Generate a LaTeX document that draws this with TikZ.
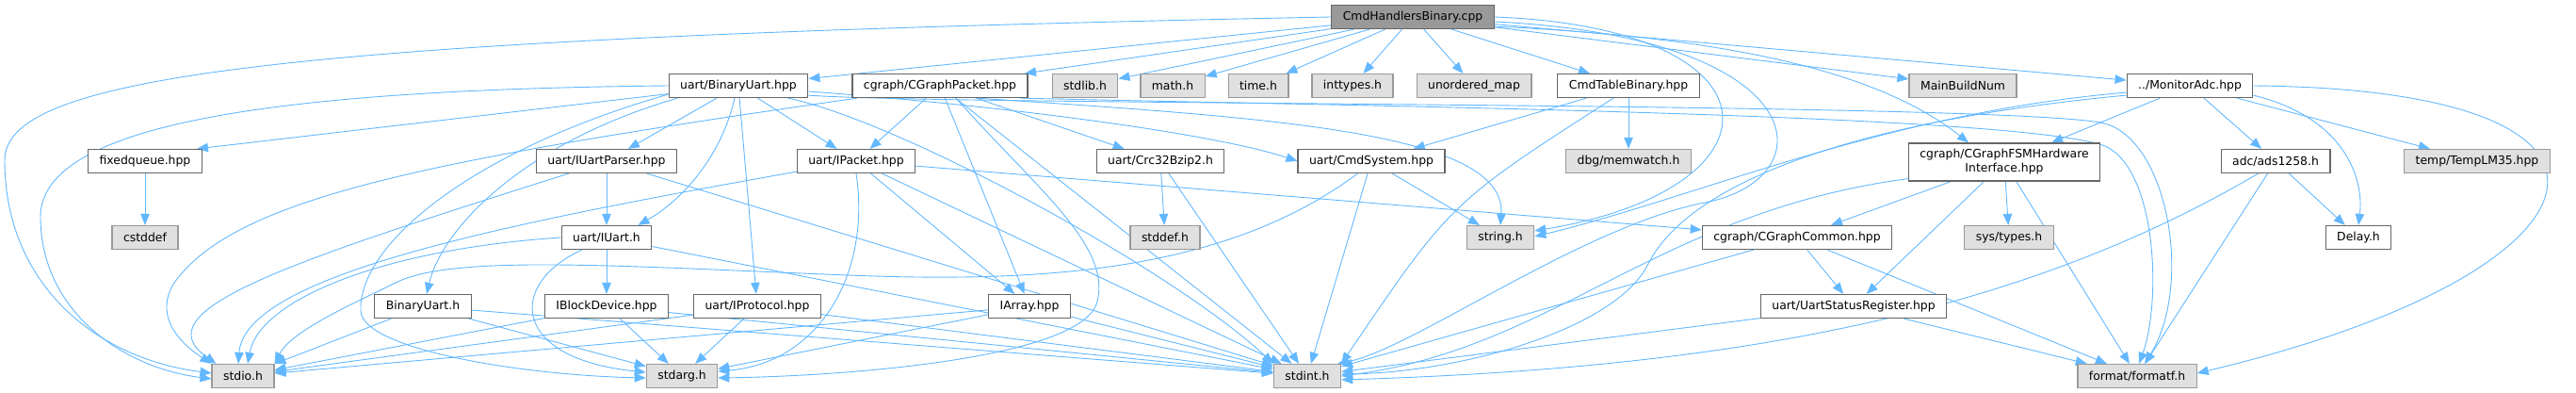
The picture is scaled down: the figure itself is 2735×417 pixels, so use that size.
\documentclass[tikz,border=0pt]{standalone}
\usepackage{fontspec}
\setmainfont{DejaVu Sans}
\usetikzlibrary{arrows.meta, backgrounds, calc}
\definecolor{dedge}{HTML}{63B8FF}
\definecolor{dline}{HTML}{666666}
\definecolor{dextline}{HTML}{999999}
\definecolor{dextfill}{HTML}{E0E0E0}
\definecolor{droot}{HTML}{999999}
\tikzset{
  filebox/.style={draw=dline, fill=white, line width=1.2pt, minimum height=25pt,
                  inner xsep=12pt, inner ysep=2pt, text=black,
                  font=\fontsize{12.4}{15}\selectfont},
  extbox/.style={filebox, draw=dextline, fill=dextfill},
  rootbox/.style={filebox, fill=droot},
  inc/.style={-{Triangle[length=12pt,width=9.5pt]}, dedge, line width=0.9pt},
}

\begin{document}
\begin{tikzpicture}[x=1pt, y=-1pt]
  \useasboundingbox (0,0) rectangle (2735,417);

  %% ── row 0 ──
  \node[rootbox] (root) at (1500,18) {CmdHandlersBinary.cpp};

  %% ── row 1 ──
  \node[filebox] (bu)       at (784,91)  {uart/BinaryUart.hpp};
  \node[filebox] (cgp)      at (998,91)  {cgraph/CGraphPacket.hpp};
  \node[extbox]  (stdlib)   at (1152,91) {stdlib.h};
  \node[extbox]  (math)     at (1245,91) {math.h};
  \node[extbox]  (time)     at (1336,91) {time.h};
  \node[extbox]  (inttypes) at (1436,91) {inttypes.h};
  \node[extbox]  (umap)     at (1565,91) {unordered\_map};
  \node[filebox] (ctb)      at (1729,91) {CmdTableBinary.hpp};
  \node[extbox]  (mbn)      at (2084,91) {MainBuildNum};
  \node[filebox] (madc)     at (2325,91) {../MonitorAdc.hpp};

  %% ── row 2 ──
  \node[filebox] (fq)   at (154,171)  {fixedqueue.hpp};
  \node[filebox] (iup)  at (644,171)  {uart/IUartParser.hpp};
  \node[filebox] (ipk)  at (909,171)  {uart/IPacket.hpp};
  \node[filebox] (crc)  at (1232,171) {uart/Crc32Bzip2.h};
  \node[filebox] (cmds) at (1456,171) {uart/CmdSystem.hpp};
  \node[extbox]  (memw) at (1729,171) {dbg/memwatch.h};
  \node[filebox, minimum height=40pt, align=center] (fsm) at (2128,172)
       {cgraph/CGraphFSMHardware\\Interface.hpp};
  \node[filebox] (ads)  at (2416,171) {adc/ads1258.h};
  \node[extbox]  (lm35) at (2630,171) {temp/TempLM35.hpp};

  %% ── row 3 ──
  \node[extbox]  (cstddef)  at (154,252)  {cstddef};
  \node[filebox] (iuart)    at (644,252)  {uart/IUart.h};
  \node[extbox]  (stddef)   at (1237,252) {stddef.h};
  \node[extbox]  (string)   at (1593,252) {string.h};
  \node[filebox] (cgc)      at (1908,252) {cgraph/CGraphCommon.hpp};
  \node[extbox]  (systypes) at (2133,252) {sys/types.h};
  \node[filebox] (delay)    at (2504,252) {Delay.h};

  %% ── row 4 ──
  \node[filebox] (buh)    at (449,325)  {BinaryUart.h};
  \node[filebox] (iblk)   at (644,325)  {IBlockDevice.hpp};
  \node[filebox] (iproto) at (804,325)  {uart/IProtocol.hpp};
  \node[filebox] (iarr)   at (1093,325) {IArray.hpp};
  \node[filebox] (usr)    at (1968,325) {uart/UartStatusRegister.hpp};

  %% ── row 5 ──
  \node[extbox] (stdio)   at (258,399)  {stdio.h};
  \node[extbox] (stdarg)  at (724,399)  {stdarg.h};
  \node[extbox] (stdint)  at (1388,399) {stdint.h};
  \node[extbox] (formatf) at (2269,399) {format/formatf.h};

  \begin{scope}[on background layer]
    %% ── straight includes ──
    \foreach \src/\dst in {root/bu, root/cgp, root/stdlib, root/math, root/time,
        root/inttypes, root/umap, root/ctb, root/mbn, root/madc,
        bu/iup, bu/ipk, bu/iproto,
        cgp/ipk, cgp/crc, cgp/iarr, cgp/stdint, fq/cstddef,
        iup/iuart, iup/stdint, ipk/iarr, ipk/cgc, ipk/stdint,
        iuart/iblk, iuart/stdint,
        buh/stdio, buh/stdarg, buh/stdint,
        iblk/stdio, iblk/stdarg, iblk/stdint,
        iproto/stdio, iproto/stdarg, iproto/stdint,
        iarr/stdio, iarr/stdarg, iarr/stdint,
        crc/stddef, crc/stdint, cmds/string, cmds/stdint,
        ctb/cmds, ctb/memw,
        fsm/cgc, fsm/usr, fsm/systypes, fsm/formatf,
        cgc/usr, cgc/formatf, cgc/stdint, usr/formatf, usr/stdint,
        madc/fsm, madc/ads, madc/lm35, ads/delay, ads/formatf}{
      \draw[inc] (\src) -- (\dst);
    }
    \draw[inc] (bu) -- ($(fq.north east)+(-6,0)$);

    %% ── curved includes, left side ──
    \draw[inc] (root.west) .. controls (300,40) and (5,80) .. (5,170)
               .. controls (5,300) and (100,380) .. ($(stdio.west)+(0,-3)$);
    \draw[inc] (bu.west) .. controls (300,95) and (43,130) .. (43,230)
               .. controls (43,330) and (130,390) .. ($(stdio.west)+(0,3)$);
    \draw[inc] ($(cgp.south west)+(6,0)$) .. controls (450,170) and (250,210) .. (185,300)
               .. controls (160,340) and (200,370) .. (stdio.north west);
    \draw[inc] ($(iup.south west)+(35,0)$) .. controls (300,280) and (150,330) .. ($(stdio.north west)+(5,0)$);
    \draw[inc] ($(ipk.south west)+(0,-2)$) .. controls (550,235) and (260,290) .. ($(stdio.north)+(-5,0)$);
    \draw[inc] (iuart.west) .. controls (400,265) and (275,320) .. ($(stdio.north)+(5,0)$);
    \draw[inc] ($(cmds.south west)+(64,0)$) .. controls (1300,290) and (1100,300) .. (900,292)
               .. controls (650,282) and (480,270) .. (420,300)
               .. controls (380,320) and (310,350) .. (stdio.north east);
    \draw[inc] ($(bu.south west)+(10,0)$) .. controls (560,150) and (470,240) .. ($(buh.north)+(4,0)$);
    \draw[inc] ($(bu.south)+(-4,0)$) .. controls (765,170) and (720,215) .. ($(iuart.north east)+(-15,0)$);
    \draw[inc] ($(bu.south west)+(0,-4)$) .. controls (500,160) and (380,260) .. (383,330)
               .. controls (385,370) and (550,398) .. ($(stdarg.west)+(0,2)$);
    \draw[inc] ($(iuart.south)+(-26,0)$) .. controls (540,300) and (540,380) .. ($(stdarg.west)+(0,-4)$);
    \draw[inc] (ipk.south) .. controls (925,290) and (870,385) .. ($(stdarg.east)+(0,-5)$);
    \draw[inc] ($(cgp.south)+(17,0)$) .. controls (1100,200) and (1180,260) .. (1165,320)
               .. controls (1150,380) and (900,399) .. ($(stdarg.east)+(0,2)$);

    %% ── curved includes, middle ──
    \draw[inc] ($(bu.east)+(0,6)$) .. controls (1100,115) and (1300,145) .. (cmds.west);
    \draw[inc] ($(bu.south east)+(-22,0)$) .. controls (960,130) and (1250,290) .. (stdint.north west);
    \draw[inc] ($(cgp.south)+(39,0)$) .. controls (1350,125) and (1600,140) .. (string.north);
    \draw[inc] ($(ctb.south)+(-16,0)$) .. controls (1540,215) .. (stdint.north east);
    \draw[inc] (root.east) .. controls (1900,30) and (1900,200) .. ($(string.east)+(0,-7)$);
    \draw[inc] ($(root.east)+(0,5)$) .. controls (1930,40) and (1940,190) .. (1810,215)
               .. controls (1680,240) and (1500,370) .. ($(stdint.north east)+(-4,0)$);
    \draw[inc] ($(root.south east)+(0,-3)$) .. controls (1850,40) and (2000,80) .. ($(fsm.north)+(-38,0)$);
    \draw[inc] ($(fsm.south west)+(0,-3)$) .. controls (1760,225) and (1650,370) .. (stdint.east);
    \draw[inc] ($(ads.south west)+(40,0)$) .. controls (2150,330) and (1850,390) .. ($(stdint.east)+(0,4)$);

    %% ── curved includes, right side ──
    \draw[inc] ($(bu.south east)+(0,-3)$) .. controls (1000,112) and (2100,108) .. (2230,130)
               .. controls (2300,142) and (2330,300) .. ($(formatf.north)+(8,0)$);
    \draw[inc] ($(cgp.south east)+(-8,0)$) .. controls (1400,112) and (2140,120) .. (2235,155)
               .. controls (2290,180) and (2295,320) .. ($(formatf.north)+(2,0)$);
    \draw[inc] ($(madc.south west)+(0,-6)$) .. controls (2000,120) and (1800,210) .. ($(string.east)+(0,-1)$);
    \draw[inc] ($(madc.south west)+(0,-3)$) .. controls (1950,130) and (1790,200) .. (1750,280)
               .. controls (1715,350) and (1550,395) .. ($(stdint.east)+(0,-2)$);
    \draw[inc] ($(madc.south east)+(0,-3)$) .. controls (2490,125) and (2510,190) .. (delay.north);
    \draw[inc] (madc.east) .. controls (2850,95) and (2780,290) .. ($(formatf.east)+(0,-3)$);
  \end{scope}
\end{tikzpicture}
\end{document}
